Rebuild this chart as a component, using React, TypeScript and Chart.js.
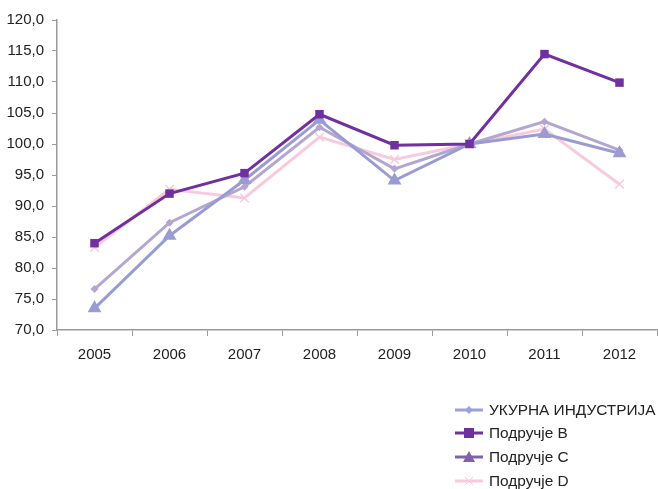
import React, { useEffect, useRef } from "react";
import { Chart, registerables } from "chart.js";

Chart.register(...registerables);

const years = ["2005", "2006", "2007", "2008", "2009", "2010", "2011", "2012"];
const ukupna = [76.6, 87.3, 93.1, 102.7, 96.0, 100.0, 103.6, 99.0];
const podB = [84.0, 92.0, 95.3, 104.8, 99.8, 100.0, 114.5, 109.9];
const podC = [73.5, 85.2, 94.2, 103.9, 94.1, 100.0, 101.6, 98.5];
const podD = [83.3, 92.7, 91.3, 101.1, 97.5, 100.0, 102.4, 93.5];

const seriesNames = ["УКУРНА ИНДУСТРИЈА", "Подручје B", "Подручје C", "Подручје D"];
const lineColors = ["#b3a7d1", "#7030a0", "#9b9bd3", "#f8cadd"];
const legendColors = ["#9f9fdb", "#7030a0", "#7f62ab", "#f8cadd"];
const markerStyles = ["rectRot", "rect", "triangle", "crossRot"];
const markerRadii = [4, 6, 8, 6];

const FONT = "'Liberation Sans', Arial, sans-serif";

const legendPlugin = {
  id: "customLegend",
  afterDraw(chart: any) {
    const ctx = chart.ctx;
    ctx.save();
    const rows = [410, 433, 457, 481];
    seriesNames.forEach((name, i) => {
      const y = rows[i];
      const color = legendColors[i];
      ctx.strokeStyle = color;
      ctx.lineWidth = 3;
      ctx.beginPath();
      ctx.moveTo(455, y);
      ctx.lineTo(483, y);
      ctx.stroke();
      const style = markerStyles[i];
      ctx.fillStyle = color;
      ctx.strokeStyle = color;
      if (style === "rectRot") {
        ctx.beginPath();
        ctx.moveTo(469, y - 4);
        ctx.lineTo(473, y);
        ctx.lineTo(469, y + 4);
        ctx.lineTo(465, y);
        ctx.closePath();
        ctx.fill();
      } else if (style === "rect") {
        ctx.fillRect(464, y - 5, 10, 10);
      } else if (style === "triangle") {
        ctx.beginPath();
        ctx.moveTo(469, y - 6);
        ctx.lineTo(475, y + 5);
        ctx.lineTo(463, y + 5);
        ctx.closePath();
        ctx.fill();
      } else {
        ctx.lineWidth = 1;
        ctx.beginPath();
        ctx.moveTo(465, y - 4);
        ctx.lineTo(473, y + 4);
        ctx.moveTo(473, y - 4);
        ctx.lineTo(465, y + 4);
        ctx.stroke();
      }
      ctx.fillStyle = "#222222";
      ctx.font = `15.4px ${FONT}`;
      ctx.textBaseline = "middle";
      ctx.textAlign = "left";
      ctx.fillText(name, 489, y + 1);
    });
    ctx.restore();
  },
};

export default function App() {
  const ref = useRef<HTMLCanvasElement>(null);
  useEffect(() => {
    document.body.style.margin = "0";
    document.body.style.overflow = "hidden";
    document.documentElement.style.overflow = "hidden";
    const allData = [ukupna, podB, podC, podD];
    const orders = [2, 0, 1, 3];
    const datasets = allData.map((d, i) => ({
      label: seriesNames[i],
      data: d,
      order: orders[i],
      borderColor: lineColors[i],
      backgroundColor: lineColors[i],
      borderWidth: 3,
      pointStyle: markerStyles[i] as any,
      pointRadius: markerRadii[i],
      pointBorderWidth: markerStyles[i] === "crossRot" ? 1.5 : 0,
      pointBorderColor: lineColors[i],
      pointBackgroundColor: lineColors[i],
      tension: 0,
    }));
    const chart = new Chart(ref.current!, {
      type: "line",
      data: { labels: years, datasets },
      options: {
        animation: false,
        responsive: false,
        maintainAspectRatio: false,
        layout: { padding: { top: 20, right: 1, bottom: 119, left: 0 } },
        plugins: { legend: { display: false }, tooltip: { enabled: false } },
        scales: {
          x: {
            offset: true,
            grid: { display: true, offset: true, drawOnChartArea: false, tickLength: 6, color: "#9a9a9a" },
            border: { display: true, color: "#9a9a9a", width: 1.5 },
            ticks: { color: "#222222", font: { family: FONT, size: 15 }, padding: 10 },
            afterFit(scale: any) {
              scale.height = 40;
            },
          },
          y: {
            min: 70,
            max: 120,
            grid: { display: true, drawOnChartArea: false, tickLength: 5, color: "#9a9a9a" },
            border: { display: true, color: "#9a9a9a", width: 1.5 },
            ticks: {
              stepSize: 5,
              color: "#222222",
              font: { family: FONT, size: 15 },
              padding: 8,
              callback: (v: any) => Number(v).toFixed(1).replace(".", ","),
            },
            afterFit(scale: any) { scale.width = 57; },
          },
        },
      },
      plugins: [legendPlugin],
    });
    return () => chart.destroy();
  }, []);
  return (
    <div style={{ position: "relative", width: 658, height: 489, overflow: "hidden" }}>
      <canvas ref={ref} width={665} height={489} style={{ display: "block", width: 665, height: 489 }} />
    </div>
  );
}
